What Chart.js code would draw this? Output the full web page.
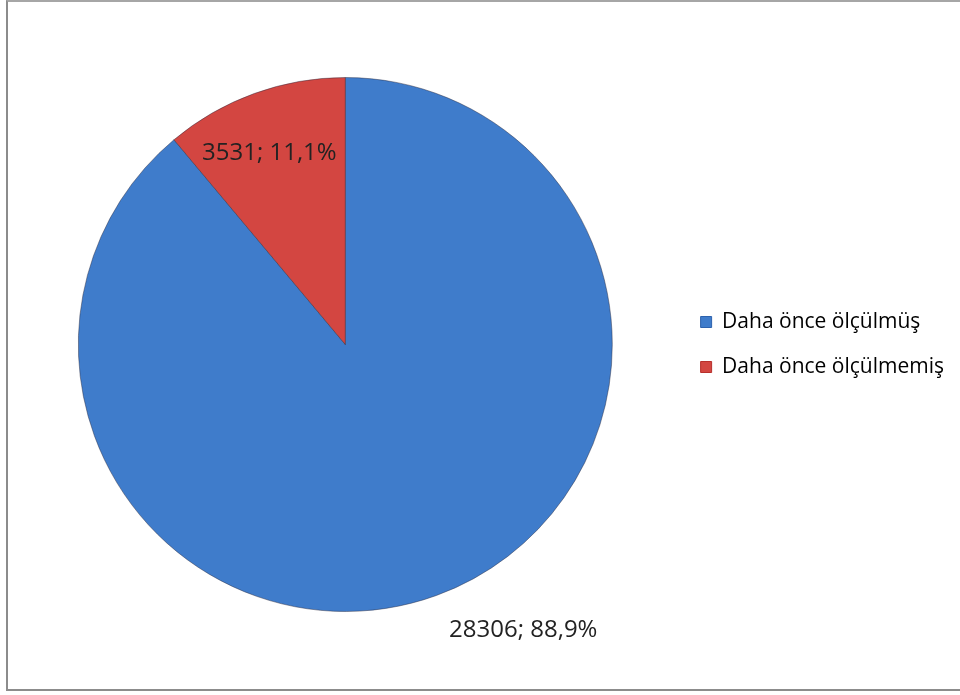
<!DOCTYPE html>
<html>
<head>
<meta charset="utf-8">
<script src="https://cdn.jsdelivr.net/npm/chart.js@4"></script>
<style>
  html, body { margin: 0; padding: 0; background: #fff; }
  #wrap { position: absolute; left: 6px; top: 0; width: 960px; height: 691px;
          border-left: 2px solid #8c8c8c; border-top: 2px solid #a6a6a6; border-bottom: 2px solid #8c8c8c;
          box-sizing: border-box; }
  #box { position: absolute; left: 0; top: 0; width: 960px; height: 695px; }
</style>
</head>
<body>
<div id="wrap"></div>
<div id="box"><canvas id="myChart" width="960" height="695"></canvas></div>
<script>
const categories = ['Daha önce ölçülmüş', 'Daha önce ölçülmemiş'];
const counts = [28306, 3531];
const percents = ['88,9%', '11,1%'];
const colors = ['#3f7ccb', '#d34641'];
const edgeColors = ['#2d62ad', '#b8302c'];

window.onload = function() {
  // shaded fill, a bit darker toward the rim
  function shade(ctx) {
    const el = ctx.element;
    if (!el || !el.outerRadius) return colors[ctx.dataIndex];
    const g = ctx.chart.ctx.createRadialGradient(el.x, el.y, 0, el.x, el.y, el.outerRadius);
    g.addColorStop(0, colors[ctx.dataIndex]);
    g.addColorStop(0.9, colors[ctx.dataIndex]);
    g.addColorStop(1, edgeColors[ctx.dataIndex]);
    return g;
  }

  const sliceLabels = {
    id: 'sliceLabels',
    afterDatasetsDraw(chart) {
      const c = chart.ctx;
      const arcs = chart.getDatasetMeta(0).data;
      c.save();
      c.font = '24px "Open Sans", sans-serif';
      c.fillStyle = '#222';
      c.textAlign = 'center';
      c.textBaseline = 'middle';
      arcs.forEach((a, i) => {
        const mid = (a.startAngle + a.endAngle) / 2;
        let ang = mid - 0.03, dist = a.outerRadius * 0.77;
        if (i === 0) { ang = mid - 0.208; dist = a.outerRadius * 1.262; }
        const x = a.x + Math.cos(ang) * dist;
        const y = a.y + Math.sin(ang) * dist;
        c.fillText(counts[i] + '; ' + percents[i], x, y);
      });
      c.restore();
    }
  };

  const data = {
    labels: categories,
    datasets: [{
      data: counts,
      backgroundColor: shade,
      borderColor: 'rgba(40,40,60,0.45)',
      borderWidth: 1
    }]
  };

  const config = {
    type: 'pie',
    data: data,
    options: {
      responsive: false,
      animation: false,
      layout: { padding: { top: 77, bottom: 83, left: 14, right: 6 } },
      plugins: {
        tooltip: { enabled: false },
        legend: {
          position: 'right',
          labels: {
            font: { family: '"Open Sans", sans-serif', size: 21 },
            color: '#111',
            boxWidth: 11,
            boxHeight: 11,
            padding: 24,
            generateLabels: function(chart) {
              return categories.map((t, i) => ({
                text: t, fillStyle: colors[i], strokeStyle: edgeColors[i], lineWidth: 1, index: i
              }));
            }
          }
        }
      }
    },
    plugins: [sliceLabels]
  };

  const ctx = document.getElementById('myChart').getContext('2d');
  const myChart = new Chart(ctx, config);
}
</script>
</body>
</html>
